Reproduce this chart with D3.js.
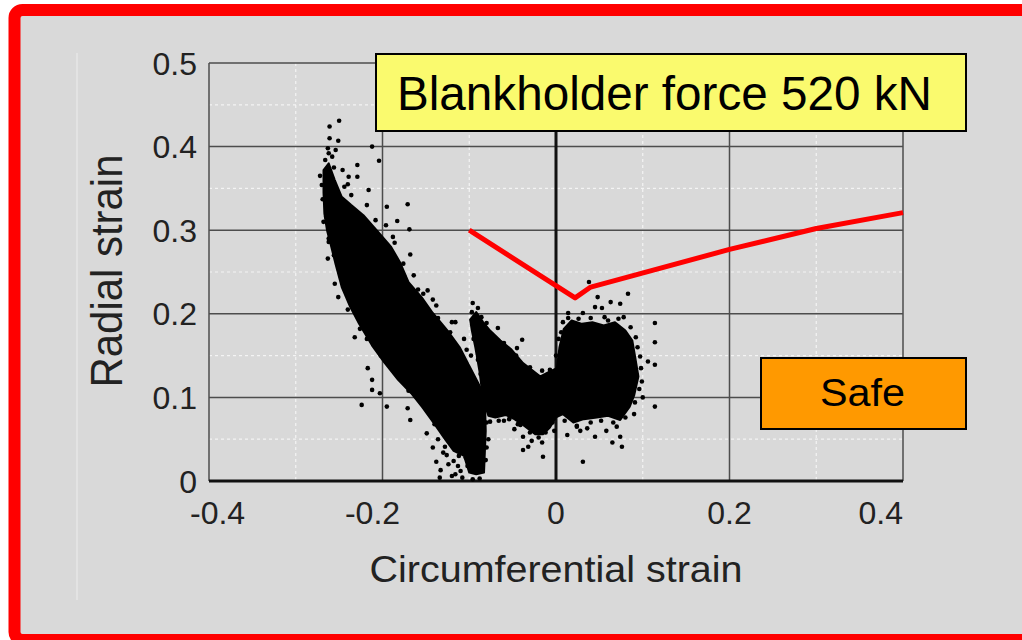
<!DOCTYPE html>
<meta charset="utf-8">
<style>
  html, body { margin: 0; padding: 0; background: #fff; }
  svg { display: block; font-family: "Liberation Sans", Arial, sans-serif; }
  .major { stroke: #4d4d4d; stroke-width: 1.5; }
  .minor { stroke: #f4f4f4; stroke-width: 1.2; stroke-dasharray: 3,3; }
</style>
<div id="chart"></div>
<script src="https://cdnjs.cloudflare.com/ajax/libs/d3/7.8.5/d3.min.js"></script>
<script>
// axis ticks
var xTicks = [-0.4, -0.2, 0, 0.2, 0.4];
var yTicks = [0, 0.1, 0.2, 0.3, 0.4, 0.5];
var xMinor = [-0.3, -0.1, 0.1, 0.3];
var yMinor = [0.05, 0.15, 0.25, 0.35, 0.45];
var xLabels = ["-0.4", "-0.2", "0", "0.2", "0.4"];
var yLabels = ["0", "0.1", "0.2", "0.3", "0.4", "0.5"];

// forming limit curve (red)
var limitCurve = [[-0.1, 0.3], [0.022, 0.219], [0.04, 0.232], [0.2, 0.277], [0.3, 0.302], [0.4, 0.321]];

// dense measurement clouds, outlined (circumferential, radial)
var cloudLeft = [[-0.268, 0.372], [-0.262, 0.380], [-0.255, 0.360], [-0.247, 0.340], [-0.236, 0.330],
  [-0.222, 0.318], [-0.205, 0.298], [-0.190, 0.280], [-0.180, 0.262], [-0.170, 0.238], [-0.155, 0.220],
  [-0.142, 0.201], [-0.125, 0.180], [-0.111, 0.160], [-0.100, 0.138], [-0.090, 0.118], [-0.082, 0.101],
  [-0.081, 0.060], [-0.083, 0.010], [-0.092, 0.008], [-0.100, 0.010], [-0.106, 0.030], [-0.118, 0.036],
  [-0.128, 0.050], [-0.140, 0.068], [-0.154, 0.088], [-0.167, 0.105], [-0.182, 0.121], [-0.198, 0.142],
  [-0.212, 0.162], [-0.227, 0.188], [-0.238, 0.210], [-0.247, 0.232], [-0.254, 0.259], [-0.259, 0.280],
  [-0.264, 0.300], [-0.267, 0.320], [-0.268, 0.345]];
var cloudRight = [[-0.099, 0.193], [-0.092, 0.202], [-0.084, 0.190], [-0.076, 0.180], [-0.064, 0.168],
  [-0.052, 0.158], [-0.038, 0.141], [-0.018, 0.125], [-0.007, 0.131], [0.001, 0.135], [0.004, 0.160],
  [0.009, 0.182], [0.018, 0.192], [0.030, 0.188], [0.042, 0.190], [0.055, 0.186], [0.068, 0.190],
  [0.080, 0.180], [0.088, 0.168], [0.091, 0.150], [0.095, 0.125], [0.090, 0.102], [0.085, 0.089],
  [0.074, 0.073], [0.060, 0.078], [0.047, 0.076], [0.032, 0.074], [0.020, 0.070], [0.008, 0.080],
  [0, 0.076], [-0.007, 0.064], [-0.015, 0.056], [-0.024, 0.056], [-0.038, 0.067], [-0.048, 0.074],
  [-0.058, 0.079], [-0.070, 0.076], [-0.078, 0.078], [-0.084, 0.097], [-0.088, 0.130], [-0.093, 0.160],
  [-0.097, 0.180]];

// scattered measurement points
var strainPoints = [
  [-0.250, 0.431], [-0.261, 0.424], [-0.261, 0.410], [-0.251, 0.407], [-0.263, 0.398], [-0.212, 0.400],
  [-0.204, 0.383], [-0.258, 0.388], [-0.229, 0.378], [-0.239, 0.364], [-0.229, 0.364], [-0.216, 0.348],
  [-0.171, 0.331], [-0.183, 0.311], [-0.195, 0.328], [-0.169, 0.301], [-0.188, 0.292], [-0.168, 0.271],
  [-0.262, 0.286], [-0.263, 0.266], [-0.159, 0.229], [-0.153, 0.224], [-0.255, 0.236], [-0.251, 0.220],
  [-0.224, 0.091], [-0.195, 0.089], [-0.217, 0.135], [-0.212, 0.121], [-0.212, 0.109], [-0.203, 0.105],
  [-0.168, 0.073], [-0.171, 0.087], [-0.149, 0.057], [-0.232, 0.172], [-0.228, 0.196], [-0.136, 0.195],
  [-0.116, 0.190], [-0.122, 0.178], [-0.103, 0.157], [-0.126, 0.171], [-0.157, 0.217], [-0.153, 0.201],
  [-0.142, 0.217], [-0.096, 0.213], [-0.090, 0.207], [-0.080, 0.189], [-0.067, 0.183], [-0.039, 0.169],
  [-0.045, 0.159], [-0.007, 0.133], [-0.076, 0.071], [-0.041, 0.067], [-0.038, 0.053], [-0.032, 0.041],
  [-0.038, 0.037], [-0.016, 0.046], [-0.015, 0.029], [0.031, 0.023], [0.024, 0.065], [0.013, 0.055],
  [0.045, 0.053], [0.074, 0.053], [0.065, 0.046], [0.076, 0.041], [0.070, 0.065], [0.114, 0.189],
  [0.114, 0.166], [0.114, 0.139], [0.114, 0.089], [0.097, 0.149], [0.106, 0.143], [0.099, 0.119],
  [0.038, 0.238], [0.048, 0.220], [0.083, 0.224], [0.063, 0.214], [0.074, 0.212], [0.045, 0.208],
  [0.053, 0.207], [0.036, 0.063], [0.014, 0.201], [0.018, 0.189], [0.031, 0.201], [-0.097, 0.202],
  [-0.138, 0.023], [-0.133, 0.013], [-0.126, 0.031], [-0.120, 0.006], [-0.113, 0.018], [-0.108, 0.004],
  [-0.104, 0.028], [-0.092, 0.037], [-0.128, 0.041], [-0.116, 0.043], [-0.270, 0.354], [-0.269, 0.337],
  [-0.265, 0.316], [-0.240, 0.250], [-0.230, 0.215], [-0.198, 0.165], [-0.185, 0.140], [-0.170, 0.118],
  [-0.150, 0.090], [-0.140, 0.068], [-0.155, 0.185], [-0.175, 0.245], [-0.190, 0.270], [-0.132, 0.180],
  [-0.108, 0.140], [-0.093, 0.113], [-0.078, 0.105], [-0.072, 0.160], [-0.050, 0.150], [-0.028, 0.130],
  [-0.060, 0.072], [-0.048, 0.062], [-0.028, 0.048], [-0.002, 0.060], [0.008, 0.190], [0.000, 0.150],
  [0.092, 0.172], [0.100, 0.100], [0.090, 0.080], [0.058, 0.060], [0.028, 0.060], [0.056, 0.196],
  [0.078, 0.196], [-0.085, 0.080], [-0.080, 0.040], [-0.090, 0.015],
  [-0.244, 0.352], [-0.236, 0.342], [-0.218, 0.330], [-0.208, 0.312], [-0.196, 0.306], [-0.186, 0.285],
  [-0.176, 0.260], [-0.164, 0.246], [-0.148, 0.228], [-0.138, 0.210], [-0.120, 0.190], [-0.106, 0.170],
  [-0.098, 0.150], [-0.087, 0.128], [-0.080, 0.115], [-0.078, 0.090], [-0.080, 0.070], [-0.078, 0.050],
  [-0.081, 0.025], [-0.088, 0.003], [-0.096, 0.002], [-0.110, 0.012], [-0.118, 0.024], [-0.131, 0.060],
  [-0.143, 0.080], [-0.158, 0.100], [-0.170, 0.108], [-0.186, 0.130], [-0.202, 0.150], [-0.218, 0.170],
  [-0.226, 0.182], [-0.240, 0.205], [-0.248, 0.245], [-0.256, 0.270], [-0.262, 0.290], [-0.268, 0.310],
  [-0.264, 0.330], [-0.272, 0.365], [-0.266, 0.384], [-0.256, 0.375],
  [-0.094, 0.196], [-0.086, 0.196], [-0.074, 0.175], [-0.060, 0.165], [-0.046, 0.150], [-0.030, 0.136],
  [-0.016, 0.132], [0.003, 0.170], [0.006, 0.178], [0.014, 0.195], [0.026, 0.194], [0.040, 0.195],
  [0.060, 0.192], [0.072, 0.194], [0.086, 0.184], [0.094, 0.160], [0.098, 0.135], [0.096, 0.110],
  [0.091, 0.094], [0.080, 0.076], [0.066, 0.070], [0.052, 0.072], [0.040, 0.070], [0.024, 0.066],
  [0.010, 0.072], [-0.004, 0.070], [-0.012, 0.058], [-0.020, 0.052], [-0.030, 0.058], [-0.044, 0.068],
  [-0.054, 0.074], [-0.066, 0.072], [-0.082, 0.085], [-0.086, 0.110], [-0.090, 0.145], [-0.095, 0.170],
  [-0.112, 0.030], [-0.116, 0.008], [-0.124, 0.020], [-0.130, 0.034], [-0.136, 0.050], [-0.106, 0.046],
  [-0.102, 0.018], [-0.098, 0.040], [-0.122, 0.048], [-0.134, 0.004], [-0.142, 0.040], [-0.110, 0.054],
  [-0.262, 0.392], [-0.254, 0.396], [-0.246, 0.372], [-0.240, 0.355]];

var W = 1022, H = 640;
var svg = d3.select("#chart").append("svg").attr("width", W).attr("height", H);

// frame
svg.append("rect").attr("x", 14.5).attr("y", 10).attr("width", 1020).attr("height", 630)
  .attr("rx", 8).attr("fill", "#d9d9d9").attr("stroke", "#ff0000").attr("stroke-width", 12);
svg.append("line").attr("x1", 77).attr("x2", 77).attr("y1", 53).attr("y2", 600)
  .attr("stroke", "#e6e6e6").attr("stroke-width", 1.5);

var x = d3.scaleLinear().domain([-0.4, 0.4]).range([209, 903]);
var y = d3.scaleLinear().domain([0, 0.5]).range([481, 63]);

var grid = svg.append("g");
grid.selectAll(".mx").data(xMinor).enter().append("line").attr("class", "minor")
  .attr("x1", d => x(d)).attr("x2", d => x(d)).attr("y1", y(0.5)).attr("y2", y(0));
grid.selectAll(".my").data(yMinor).enter().append("line").attr("class", "minor")
  .attr("x1", x(-0.4)).attr("x2", x(0.4)).attr("y1", d => y(d)).attr("y2", d => y(d));
grid.selectAll(".gx").data(xTicks).enter().append("line").attr("class", "major")
  .attr("x1", d => x(d)).attr("x2", d => x(d)).attr("y1", y(0.5)).attr("y2", y(0));
grid.selectAll(".gy").data(yTicks).enter().append("line").attr("class", "major")
  .attr("x1", x(-0.4)).attr("x2", x(0.4)).attr("y1", d => y(d)).attr("y2", d => y(d));

// axes lines
svg.append("line").attr("x1", x(0)).attr("x2", x(0)).attr("y1", y(0.5)).attr("y2", y(0))
  .attr("stroke", "#111").attr("stroke-width", 3);
svg.append("line").attr("x1", x(-0.4)).attr("x2", x(0.4)).attr("y1", y(0)).attr("y2", y(0))
  .attr("stroke", "#111").attr("stroke-width", 3);

// clouds
var area = d3.line().x(d => x(d[0])).y(d => y(d[1])).curve(d3.curveLinearClosed);
svg.selectAll(".cloud").data([cloudLeft, cloudRight]).enter().append("path")
  .attr("d", area).attr("fill", "#000").attr("stroke", "#000").attr("stroke-width", 2)
  .attr("stroke-linejoin", "round");
svg.append("g").selectAll("circle").data(strainPoints).enter().append("circle")
  .attr("cx", d => x(d[0])).attr("cy", d => y(d[1])).attr("r", 2.3).attr("fill", "#000");

// limit curve
svg.append("path").datum(limitCurve)
  .attr("d", d3.line().x(d => x(d[0])).y(d => y(d[1])))
  .attr("fill", "none").attr("stroke", "#ff0000").attr("stroke-width", 5)
  .attr("stroke-linejoin", "round");

// tick labels
svg.append("g").selectAll("text").data(yTicks).enter().append("text")
  .attr("x", 197).attr("y", d => y(d)).attr("dy", "0.36em").attr("text-anchor", "end")
  .attr("font-size", 32).attr("fill", "#222").text((d, i) => yLabels[i]);
svg.append("g").selectAll("text").data(xTicks).enter().append("text")
  .attr("x", d => d === -0.4 ? x(d) - 19 : d === 0.4 ? x(d) : d < 0 ? x(d) - 10 : x(d))
  .attr("y", 524)
  .attr("text-anchor", d => d === -0.4 ? "start" : d === 0.4 ? "end" : "middle")
  .attr("font-size", 32).attr("fill", "#222").text((d, i) => xLabels[i]);

// axis titles
svg.append("text").attr("x", 556).attr("y", 582).attr("text-anchor", "middle")
  .attr("font-size", 37).attr("fill", "#222").attr("textLength", 373)
  .attr("lengthAdjust", "spacingAndGlyphs").text("Circumferential strain");
svg.append("text").attr("transform", "translate(122,271) rotate(-90)").attr("text-anchor", "middle")
  .attr("font-size", 44).attr("fill", "#222").attr("textLength", 233)
  .attr("lengthAdjust", "spacingAndGlyphs").text("Radial strain");

// annotation boxes
svg.append("rect").attr("x", 376).attr("y", 54).attr("width", 590).attr("height", 77)
  .attr("fill", "#fafa6e").attr("stroke", "#000").attr("stroke-width", 2);
svg.append("text").attr("x", 397).attr("y", 110).attr("font-size", 48).attr("fill", "#000")
  .attr("textLength", 535).attr("lengthAdjust", "spacingAndGlyphs").text("Blankholder force 520 kN");
svg.append("rect").attr("x", 761).attr("y", 358).attr("width", 205).attr("height", 71)
  .attr("fill", "#ff9900").attr("stroke", "#000").attr("stroke-width", 2);
svg.append("text").attr("x", 820).attr("y", 406).attr("font-size", 38).attr("fill", "#000")
  .attr("textLength", 85).attr("lengthAdjust", "spacingAndGlyphs").text("Safe");
</script>
